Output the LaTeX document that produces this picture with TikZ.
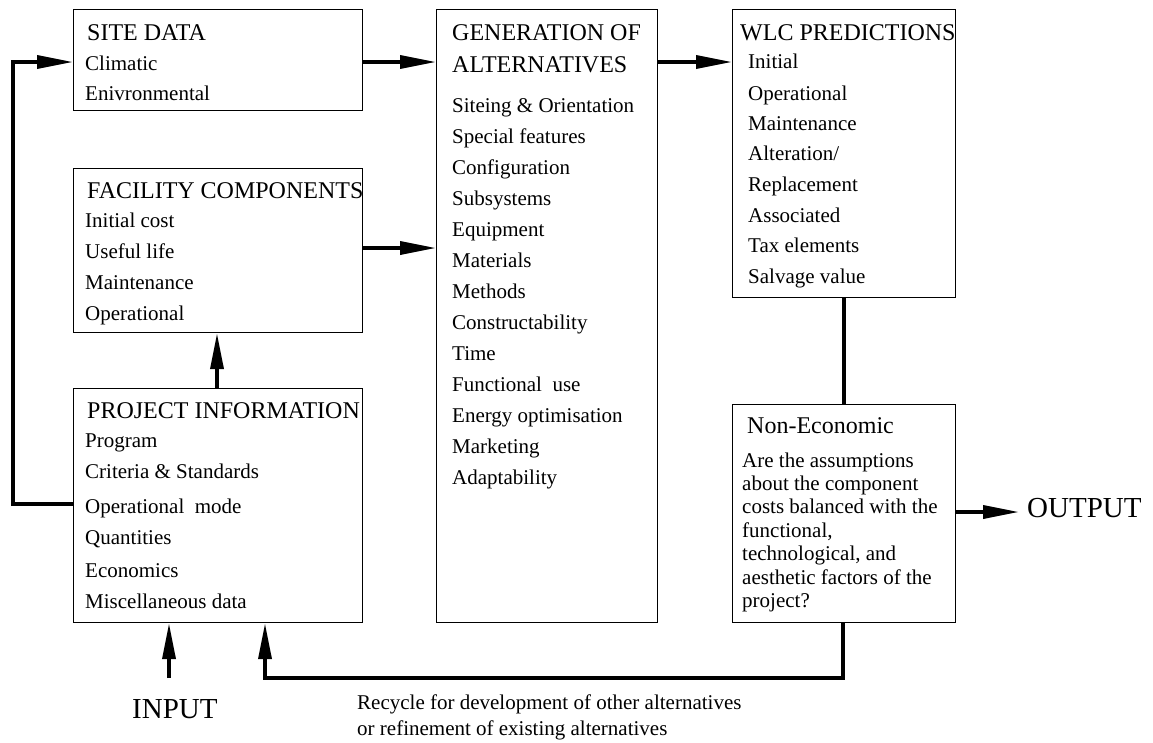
\documentclass[tikz,border=0pt]{standalone}
\usepackage{fontspec}
\setmainfont{Liberation Serif}
\usetikzlibrary{arrows.meta}

\begin{document}
\begin{tikzpicture}[x=1pt,y=-1pt,
  box/.style={draw=black, line width=1.2pt, rectangle, inner sep=0pt, anchor=north west},
  ttl/.style={font=\fontsize{24}{26}\selectfont, anchor=base west, inner sep=0pt},
  itm/.style={font=\fontsize{21}{24}\selectfont, anchor=base west, inner sep=0pt},
  big/.style={font=\fontsize{29}{32}\selectfont, anchor=base west, inner sep=0pt},
  note/.style={font=\fontsize{21}{23}\selectfont, anchor=base west, inner sep=0pt},
  conn/.style={line width=3.6pt, draw=black},
  tip/.style={-{Triangle[length=36pt,width=13pt]}}
]
\useasboundingbox (0,0) rectangle (1153,742);

% ---- boxes ----
\node[box, minimum width=289pt, minimum height=101pt] (site) at (73,9) {};
\node[box, minimum width=289pt, minimum height=164pt] (fac)  at (73,168) {};
\node[box, minimum width=289pt, minimum height=234pt] (proj) at (73,388) {};
\node[box, minimum width=221pt, minimum height=613pt] (gen)  at (436,9) {};
\node[box, minimum width=223pt, minimum height=288pt] (wlc)  at (732,9) {};
\node[box, minimum width=223pt, minimum height=218pt] (non)  at (732,404) {};

% ---- site data ----
\node[ttl] (site-t) at (87,40) {SITE DATA};
\foreach \t [count=\i] in {Climatic, Enivronmental}
  \node[itm] (site-\i) at (85,40+30*\i) {\t};

% ---- facility components ----
\node[ttl] (fac-t) at (87,198) {FACILITY COMPONENTS};
\foreach \t [count=\i] in {Initial cost, Useful life, Maintenance, Operational}
  \node[itm] (fac-\i) at (85,196+31*\i) {\t};

% ---- project information ----
\node[ttl] (proj-t) at (87,418) {PROJECT INFORMATION};
\node[itm] (proj-1) at (85,447) {Program};
\node[itm] (proj-2) at (85,478) {Criteria \& Standards};
\node[itm] (proj-3) at (85,513) {Operational\ \ mode};
\node[itm] (proj-4) at (85,544) {Quantities};
\node[itm] (proj-5) at (85,577) {Economics};
\node[itm] (proj-6) at (85,608) {Miscellaneous data};

% ---- generation of alternatives ----
\node[ttl] (gen-t1) at (452,40) {GENERATION OF};
\node[ttl] (gen-t2) at (452,72) {ALTERNATIVES};
\foreach \t [count=\i] in {Siteing \& Orientation, Special features, Configuration,
    Subsystems, Equipment, Materials, Methods, Constructability, Time,
    Functional\ \ use, Energy optimisation, Marketing, Adaptability}
  \node[itm] (gen-\i) at (452,81+31*\i) {\t};

% ---- WLC predictions ----
\node[ttl] (wlc-t) at (740,40) {WLC PREDICTIONS};
\node[itm] (wlc-1) at (748,68)  {Initial};
\node[itm] (wlc-2) at (748,100) {Operational};
\node[itm] (wlc-3) at (748,130) {Maintenance};
\node[itm] (wlc-4) at (748,160) {Alteration/};
\node[itm] (wlc-5) at (748,191) {Replacement};
\node[itm] (wlc-6) at (748,222) {Associated};
\node[itm] (wlc-7) at (748,252) {Tax elements};
\node[itm] (wlc-8) at (748,283) {Salvage value};

% ---- non-economic ----
\node[ttl] (non-t) at (747,433) {Non-Economic};
\foreach \t [count=\i] in {Are the assumptions, about the component,
    costs balanced with the, {functional,}, {technological, and},
    aesthetic factors of the, project?}
  \node[itm] (non-\i) at (742,443.6+23.4*\i) {\t};

% ---- terminals and note ----
\node[big] (out) at (1027,517) {OUTPUT};
\node[big] (inp) at (132,718) {INPUT};
\node[note] (rec-1) at (357,709) {Recycle for development of other alternatives};
\node[note] (rec-2) at (357,735) {or refinement of existing alternatives};

% ---- connectors ----
\draw[conn, tip] (proj.west |- 0,504) -| (13,62) -- (site.west |- 0,62);
\draw[conn, tip] (site.east |- 0,62) -- (gen.west |- 0,62);
\draw[conn, tip] (fac.east |- 0,248) -- (gen.west |- 0,248);
\draw[conn, tip] (gen.east |- 0,62) -- (wlc.west |- 0,62);
\draw[conn, tip] (proj.north -| 217,0) -- (fac.south -| 217,0);
\draw[conn] (wlc.south -| 844,0) -- (non.north -| 844,0);
\draw[conn, tip] (non.east |- 0,512) -- ([xshift=-8pt]out.west |- 0,512);
\coordinate (in-start) at (169,678);
\draw[conn, tip] (in-start) -- (proj.south -| in-start);
\draw[conn, tip] (non.south -| 843,0) |- (265,678) -- (proj.south -| 265,0);
\end{tikzpicture}
\end{document}
